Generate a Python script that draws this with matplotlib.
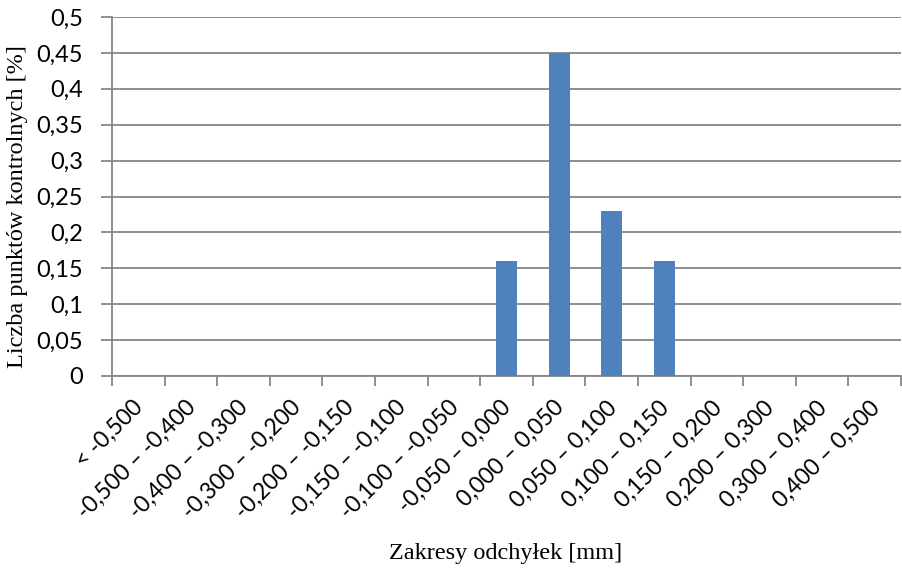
import numpy as np
import matplotlib
matplotlib.use("Agg")
import matplotlib.pyplot as plt
import matplotlib.transforms as mtransforms

# deviation ranges [mm] and share of control points
ranges = ["< -0,500", "-0,500 – -0,400", "-0,400 – -0,300", "-0,300 – -0,200",
          "-0,200 – -0,150", "-0,150 – -0,100", "-0,100 – -0,050", "-0,050 – 0,000",
          "0,000 – 0,050", "0,050 – 0,100", "0,100 – 0,150", "0,150 – 0,200",
          "0,200 – 0,300", "0,300 – 0,400", "0,400 – 0,500"]
shares = [0, 0, 0, 0, 0, 0, 0, 0.16, 0.45, 0.23, 0.16, 0, 0, 0, 0]
yticks = [0, 0.05, 0.1, 0.15, 0.2, 0.25, 0.3, 0.35, 0.4, 0.45, 0.5]

grid_col = "#868686"
tick_font = "Lato"
title_font = "Liberation Serif"

fig = plt.figure(figsize=(9.02, 5.69), dpi=100)
ax = fig.add_axes([112 / 902, 1 - 376 / 569, 789 / 902, 359 / 569])

x = np.arange(len(ranges))
ax.bar(x + 0.5, shares, width=0.4, color="#4F81BD", zorder=3)

ax.set_xlim(0, len(ranges))
ax.set_ylim(0, 0.5)
ax.set_yticks(yticks)
ax.set_yticklabels([("%g" % v).replace(".", ",") for v in yticks],
                   fontfamily=tick_font, fontsize=17)
ax.yaxis.grid(True, color=grid_col, linewidth=1.3, zorder=0)

# category boundaries carry the tick marks, labels sit in the middle
ax.set_xticks(np.arange(len(ranges) + 1))
ax.set_xticklabels([])
ax.set_xticks(x + 0.5, minor=True)
ax.set_xticklabels(ranges, minor=True, rotation=45, ha="right",
                   rotation_mode="anchor", fontfamily=tick_font, fontsize=16.5)
ax.tick_params(axis="x", which="minor", length=0, pad=15)
ax.tick_params(axis="x", which="major", length=7, width=1.3, color=grid_col)
ax.tick_params(axis="y", length=8, width=1.3, color=grid_col, pad=13)

# nudge the slanted labels a little to the left
shift = mtransforms.ScaledTranslation(-6 / 100, 0, fig.dpi_scale_trans)
for lab in ax.get_xticklabels(minor=True):
    lab.set_transform(lab.get_transform() + shift)

for side in ["top", "right"]:
    ax.spines[side].set_visible(False)
for side in ["left", "bottom"]:
    ax.spines[side].set_color(grid_col)
    ax.spines[side].set_linewidth(1.3)

fig.text(18 / 902, 1 - 207 / 569, "Liczba punktów kontrolnych [%]", rotation=90,
         ha="center", va="center", fontfamily=title_font, fontsize=17.5)
fig.text(506 / 902, 1 - 553 / 569, "Zakresy odchyłek [mm]",
         ha="center", va="center", fontfamily=title_font, fontsize=17.5)

fig.savefig("out.png", dpi=100)
